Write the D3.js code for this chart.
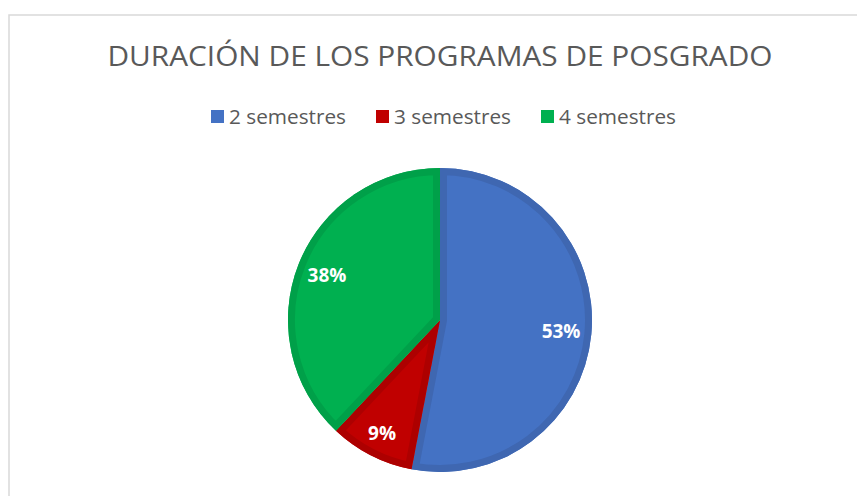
<!DOCTYPE html>
<meta charset="utf-8">
<script src="https://d3js.org/d3.v7.min.js"></script>
<style>
  body { margin: 0; background: #fff; }
</style>
<div id="chart"></div>
<script>
  // data
  var categories = ["2 semestres", "3 semestres", "4 semestres"];
  var values = [53, 9, 38];
  var fills = ["#4472C4", "#C00000", "#00B050"];
  var edges = ["#3F67B1", "#AD0000", "#00A049"];

  var W = 857, H = 496;
  var cx = 440, cy = 320, radius = 152;

  var svg = d3.select("#chart").append("svg")
    .attr("width", W)
    .attr("height", H);

  // chart frame
  svg.append("path")
    .attr("d", "M9," + H + "V15H" + W)
    .attr("fill", "none")
    .attr("stroke", "#d9d9d9")
    .attr("stroke-width", 1.5);

  // title
  svg.append("text")
    .attr("x", 440)
    .attr("y", 66)
    .attr("text-anchor", "middle")
    .attr("font-family", "'Open Sans', sans-serif")
    .attr("font-size", 27)
    .attr("fill", "#595959")
    .attr("textLength", 665)
    .attr("lengthAdjust", "spacingAndGlyphs")
    .text("DURACIÓN DE LOS PROGRAMAS DE POSGRADO");

  // legend
  var legendX = [211, 376, 541];
  var legend = svg.append("g");
  categories.forEach(function (c, i) {
    legend.append("rect")
      .attr("x", legendX[i]).attr("y", 110)
      .attr("width", 13).attr("height", 13)
      .attr("fill", fills[i]);
    legend.append("text")
      .attr("x", legendX[i] + 18).attr("y", 124)
      .attr("font-family", "'Open Sans', sans-serif")
      .attr("font-size", 20.5)
      .attr("fill", "#595959")
      .attr("textLength", 117)
      .attr("lengthAdjust", "spacingAndGlyphs")
      .text(c);
  });

  // pie
  var pie = d3.pie().sort(null).value(function (d) { return d; });
  var arcs = pie(values);
  var arc = d3.arc().innerRadius(0).outerRadius(radius);
  var labelArc = d3.arc().innerRadius(radius * 0.8).outerRadius(radius * 0.8);

  var g = svg.append("g").attr("transform", "translate(" + cx + "," + cy + ")");
  var defs = svg.append("defs");

  arcs.forEach(function (a, i) {
    defs.append("clipPath").attr("id", "clip" + i)
      .append("path").attr("d", arc(a));
    g.append("path")
      .attr("d", arc(a))
      .attr("fill", fills[i]);
    // darker inner rim like the original
    g.append("path")
      .attr("d", arc(a))
      .attr("fill", "none")
      .attr("stroke", edges[i])
      .attr("stroke-width", 14)
      .attr("clip-path", "url(#clip" + i + ")");
  });

  g.selectAll(".lbl")
    .data(arcs)
    .enter()
    .append("text")
    .attr("class", "lbl")
    .attr("transform", function (d) {
      var p = labelArc.centroid(d);
      // the small slice label sits a bit further out
      if (d.value < 15) { p = d3.arc().innerRadius(radius * 0.84).outerRadius(radius * 0.84).centroid(d); }
      return "translate(" + p + ")";
    })
    .attr("text-anchor", "middle")
    .attr("dy", "0.35em")
    .attr("font-family", "'Open Sans', sans-serif")
    .attr("font-weight", "bold")
    .attr("font-size", 19)
    .attr("fill", "#fff")
    .text(function (d) { return d.value + "%"; });
</script>
